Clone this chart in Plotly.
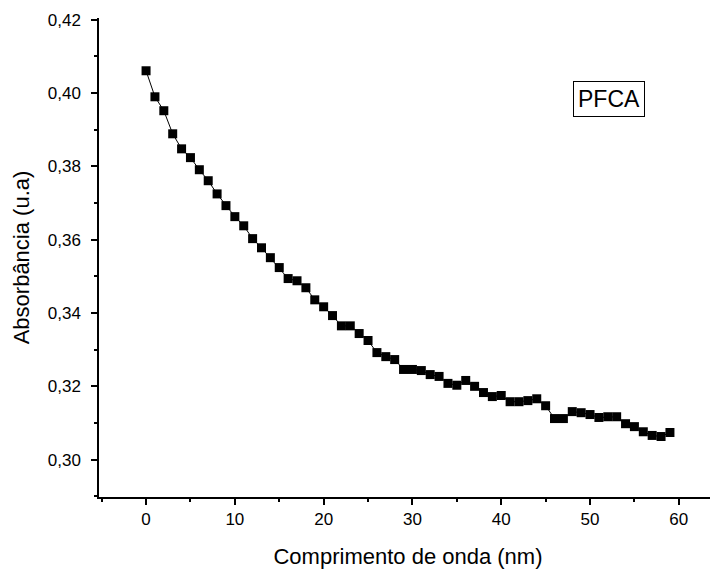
import plotly.graph_objects as go

# Data
comprimento = list(range(60))
absorbancia = [
    0.4061, 0.3990, 0.3952, 0.3889, 0.3848, 0.3824, 0.3791, 0.3761, 0.3725, 0.3693,
    0.3663, 0.3638, 0.3603, 0.3578, 0.3551, 0.3524, 0.3494, 0.3488, 0.3469, 0.3436,
    0.3417, 0.3393, 0.3365, 0.3365, 0.3344, 0.3325, 0.3292, 0.3281, 0.3273, 0.3246,
    0.3246, 0.3243, 0.3232, 0.3227, 0.3208, 0.3203, 0.3216, 0.3200, 0.3183, 0.3172,
    0.3175, 0.3158, 0.3158, 0.3161, 0.3166, 0.3147, 0.3112, 0.3112, 0.3131, 0.3128,
    0.3123, 0.3115, 0.3117, 0.3117, 0.3098, 0.3090, 0.3076, 0.3066, 0.3063, 0.3074,
]

font = "Arial, Liberation Sans, sans-serif"

fig = go.Figure()
fig.add_trace(go.Scatter(
    x=comprimento, y=absorbancia,
    mode="lines+markers",
    line=dict(color="black", width=1),
    marker=dict(symbol="square", size=9, color="black"),
    showlegend=False,
))

fig.add_annotation(
    text="PFCA", xref="paper", yref="paper", x=0.825, y=0.830,
    xanchor="center", yanchor="middle",
    showarrow=False, font=dict(size=23, color="black", family=font),
    bordercolor="black", borderwidth=1, borderpad=4, bgcolor="white",
)

# page body has an 8px margin, so the figure is a bit smaller than the window
fig.update_layout(
    width=710, height=563,
    margin=dict(l=91, r=1, t=10, b=74),
    paper_bgcolor="white", plot_bgcolor="white",
    separators=", ",
    font=dict(family=font, color="black", size=17),
)

fig.update_xaxes(
    range=[-5.3, 64.3], dtick=10, tick0=0,
    showgrid=False, zeroline=False, automargin=False,
    showline=True, linecolor="black", linewidth=1.5,
    ticks="outside", ticklen=6, tickwidth=1.5, tickcolor="black",
    minor=dict(ticks="outside", ticklen=3, dtick=5, tick0=0, tickcolor="black", tickwidth=1.5),
    title=dict(text="Comprimento de onda (nm)", font=dict(size=22), standoff=20),
    tickfont=dict(size=17),
)
fig.update_yaxes(
    range=[0.2898, 0.4205], dtick=0.02, tick0=0.30, tickformat=".2f",
    showgrid=False, zeroline=False, automargin=False,
    showline=True, linecolor="black", linewidth=1.5,
    ticks="outside", ticklen=6, tickwidth=1.5, tickcolor="black",
    minor=dict(ticks="outside", ticklen=3, dtick=0.01, tick0=0.29, tickcolor="black", tickwidth=1.5),
    ticklabelstandoff=7,
    title=dict(text="Absorbância (u.a)", font=dict(size=22), standoff=12),
    tickfont=dict(size=17),
)

fig.write_html("out.html")
